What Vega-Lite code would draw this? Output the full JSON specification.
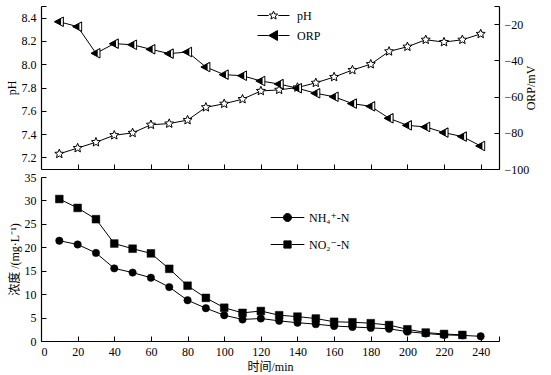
{
  "$schema": "https://vega.github.io/schema/vega-lite/v6.json",
  "padding": {"left": 5, "top": 5, "right": 5, "bottom": 0},
  "background": "white",
  "config": {
    "font": "Liberation Serif",
    "view": {"stroke": null},
    "axis": {
      "labelFont": "Liberation Serif, Noto Sans CJK SC",
      "titleFont": "Liberation Serif, Noto Sans CJK SC",
      "labelFontSize": 12,
      "titleFontSize": 12,
      "titleFontWeight": "normal",
      "labelColor": "black",
      "titleColor": "black",
      "domainColor": "black",
      "tickColor": "black",
      "domainWidth": 1.2,
      "tickWidth": 1,
      "tickSize": -5,
      "labelPadding": 10,
      "grid": false
    },
    "legend": {
      "labelFont": "Liberation Serif, DejaVu Serif",
      "labelFontSize": 12,
      "labelColor": "black",
      "padding": 0
    }
  },
  "resolve": {"scale": {"stroke": "independent"}, "legend": {"stroke": "independent"}},
  "spacing": -4,
  "datasets": {
    "top": [
      {"t": 10, "s": "pH", "v": 7.23}, {"t": 20, "s": "pH", "v": 7.28}, {"t": 30, "s": "pH", "v": 7.33}, {"t": 40, "s": "pH", "v": 7.39},
      {"t": 50, "s": "pH", "v": 7.41}, {"t": 60, "s": "pH", "v": 7.48}, {"t": 70, "s": "pH", "v": 7.49}, {"t": 80, "s": "pH", "v": 7.52},
      {"t": 90, "s": "pH", "v": 7.63}, {"t": 100, "s": "pH", "v": 7.66}, {"t": 110, "s": "pH", "v": 7.70}, {"t": 120, "s": "pH", "v": 7.77},
      {"t": 130, "s": "pH", "v": 7.78}, {"t": 140, "s": "pH", "v": 7.80}, {"t": 150, "s": "pH", "v": 7.84}, {"t": 160, "s": "pH", "v": 7.89},
      {"t": 170, "s": "pH", "v": 7.95}, {"t": 180, "s": "pH", "v": 8.00}, {"t": 190, "s": "pH", "v": 8.11}, {"t": 200, "s": "pH", "v": 8.15},
      {"t": 210, "s": "pH", "v": 8.21}, {"t": 220, "s": "pH", "v": 8.19}, {"t": 230, "s": "pH", "v": 8.21}, {"t": 240, "s": "pH", "v": 8.26},
      {"t": 10, "s": "ORP", "v": -18.7}, {"t": 20, "s": "ORP", "v": -21.4}, {"t": 30, "s": "ORP", "v": -36.1}, {"t": 40, "s": "ORP", "v": -30.8},
      {"t": 50, "s": "ORP", "v": -31.4}, {"t": 60, "s": "ORP", "v": -33.9}, {"t": 70, "s": "ORP", "v": -36.3}, {"t": 80, "s": "ORP", "v": -35.4},
      {"t": 90, "s": "ORP", "v": -43.7}, {"t": 100, "s": "ORP", "v": -47.9}, {"t": 110, "s": "ORP", "v": -48.5}, {"t": 120, "s": "ORP", "v": -51.4},
      {"t": 130, "s": "ORP", "v": -53.1}, {"t": 140, "s": "ORP", "v": -55.4}, {"t": 150, "s": "ORP", "v": -58.2}, {"t": 160, "s": "ORP", "v": -60.1},
      {"t": 170, "s": "ORP", "v": -63.9}, {"t": 180, "s": "ORP", "v": -65.4}, {"t": 190, "s": "ORP", "v": -72.0}, {"t": 200, "s": "ORP", "v": -75.9},
      {"t": 210, "s": "ORP", "v": -76.8}, {"t": 220, "s": "ORP", "v": -79.9}, {"t": 230, "s": "ORP", "v": -82.1}, {"t": 240, "s": "ORP", "v": -87.3}
    ],
    "bot": [
      {"t": 10, "s": "NH₄⁺-N", "v": 21.4}, {"t": 20, "s": "NH₄⁺-N", "v": 20.6}, {"t": 30, "s": "NH₄⁺-N", "v": 18.8}, {"t": 40, "s": "NH₄⁺-N", "v": 15.5},
      {"t": 50, "s": "NH₄⁺-N", "v": 14.6}, {"t": 60, "s": "NH₄⁺-N", "v": 13.5}, {"t": 70, "s": "NH₄⁺-N", "v": 11.5}, {"t": 80, "s": "NH₄⁺-N", "v": 8.7},
      {"t": 90, "s": "NH₄⁺-N", "v": 7.0}, {"t": 100, "s": "NH₄⁺-N", "v": 5.5}, {"t": 110, "s": "NH₄⁺-N", "v": 4.6}, {"t": 120, "s": "NH₄⁺-N", "v": 4.8},
      {"t": 130, "s": "NH₄⁺-N", "v": 4.3}, {"t": 140, "s": "NH₄⁺-N", "v": 3.9}, {"t": 150, "s": "NH₄⁺-N", "v": 3.6}, {"t": 160, "s": "NH₄⁺-N", "v": 3.2},
      {"t": 170, "s": "NH₄⁺-N", "v": 3.0}, {"t": 180, "s": "NH₄⁺-N", "v": 2.8}, {"t": 190, "s": "NH₄⁺-N", "v": 2.6}, {"t": 200, "s": "NH₄⁺-N", "v": 2.0},
      {"t": 210, "s": "NH₄⁺-N", "v": 1.6}, {"t": 220, "s": "NH₄⁺-N", "v": 1.3}, {"t": 230, "s": "NH₄⁺-N", "v": 1.2}, {"t": 240, "s": "NH₄⁺-N", "v": 1.0},
      {"t": 10, "s": "NO₂⁻-N", "v": 30.3}, {"t": 20, "s": "NO₂⁻-N", "v": 28.4}, {"t": 30, "s": "NO₂⁻-N", "v": 26.0}, {"t": 40, "s": "NO₂⁻-N", "v": 20.8},
      {"t": 50, "s": "NO₂⁻-N", "v": 19.7}, {"t": 60, "s": "NO₂⁻-N", "v": 18.7}, {"t": 70, "s": "NO₂⁻-N", "v": 15.4}, {"t": 80, "s": "NO₂⁻-N", "v": 11.8},
      {"t": 90, "s": "NO₂⁻-N", "v": 9.2}, {"t": 100, "s": "NO₂⁻-N", "v": 7.1}, {"t": 110, "s": "NO₂⁻-N", "v": 6.0}, {"t": 120, "s": "NO₂⁻-N", "v": 6.4},
      {"t": 130, "s": "NO₂⁻-N", "v": 5.5}, {"t": 140, "s": "NO₂⁻-N", "v": 5.2}, {"t": 150, "s": "NO₂⁻-N", "v": 4.8}, {"t": 160, "s": "NO₂⁻-N", "v": 4.1},
      {"t": 170, "s": "NO₂⁻-N", "v": 4.0}, {"t": 180, "s": "NO₂⁻-N", "v": 3.8}, {"t": 190, "s": "NO₂⁻-N", "v": 3.4}, {"t": 200, "s": "NO₂⁻-N", "v": 2.5},
      {"t": 210, "s": "NO₂⁻-N", "v": 1.8}, {"t": 220, "s": "NO₂⁻-N", "v": 1.5}, {"t": 230, "s": "NO₂⁻-N", "v": 1.3}
    ]
  },
  "vconcat": [
    {
      "width": 458,
      "height": 163,
      "data": {"name": "top"},
      "encoding": {
        "x": {"field": "t", "type": "quantitative", "scale": {"domain": [0, 250], "nice": false},
              "axis": {"values": [20, 40, 60, 80, 100, 120, 140, 160, 180, 200, 220, 240], "labels": false, "title": null}}
      },
      "layer": [
        {
          "transform": [{"filter": "datum.s == 'pH'"}],
          "encoding": {
            "y": {"field": "v", "type": "quantitative", "scale": {"domain": [7.1, 8.5], "nice": false, "zero": false},
                  "axis": {"orient": "left", "title": "pH", "values": [7.2, 7.4, 7.6, 7.8, 8.0, 8.2, 8.4, 8.5],
                           "labelExpr": "datum.value > 8.45 ? '' : format(datum.value, '.1f')", "titlePadding": 3}}
          },
          "layer": [
            {"mark": {"type": "line", "color": "black", "strokeWidth": 1}},
            {"mark": {"type": "point", "filled": true, "fill": "white", "strokeWidth": 1, "size": 90, "opacity": 1,
                      "shape": "M0,-1L0.265,-0.364L0.951,-0.309L0.428,0.139L0.588,0.809L0,0.45L-0.588,0.809L-0.428,0.139L-0.951,-0.309L-0.265,-0.364Z"},
             "encoding": {
               "stroke": {"field": "s", "type": "nominal", "scale": {"domain": ["pH"], "range": ["black"]},
                          "legend": {"orient": "none", "legendX": 224, "legendY": 1, "title": null, "symbolSize": 256, "labelOffset": 15,
                                     "symbolType": "M-2,0L-0.6,0M0.6,0L2,0M0,-0.55L0.146,-0.2L0.523,-0.17L0.235,0.076L0.323,0.445L0,0.248L-0.323,0.445L-0.235,0.076L-0.523,-0.17L-0.146,-0.2Z",
                                     "symbolFillColor": "white", "symbolStrokeWidth": 1, "symbolOpacity": 1}}
             }}
          ]
        },
        {
          "transform": [{"filter": "datum.s == 'ORP'"}],
          "encoding": {
            "y": {"field": "v", "type": "quantitative", "scale": {"domain": [-100, -10], "nice": false, "zero": false},
                  "axis": {"orient": "right", "title": "ORP/mV", "titleAngle": 270, "values": [-100, -80, -60, -40, -20, -10],
                           "labelExpr": "datum.value == -10 ? '' : format(datum.value, 'd')", "titlePadding": 9}}
          },
          "layer": [
            {"mark": {"type": "line", "color": "black", "strokeWidth": 1}},
            {"mark": {"type": "point", "filled": true, "fill": "black", "strokeWidth": 1, "size": 100, "opacity": 1, "shape": "M-1,0L0.8,-0.95L0.8,0.95Z"},
             "encoding": {
               "stroke": {"field": "s", "type": "nominal", "scale": {"domain": ["ORP"], "range": ["black"]},
                          "legend": {"orient": "none", "legendX": 224, "legendY": 21, "title": null, "symbolSize": 256, "labelOffset": 15,
                                     "symbolType": "M-2,0L-0.6,0M0.6,0L2,0M-0.6,0L0.5,-0.62L0.5,0.62Z",
                                     "symbolFillColor": "black", "symbolStrokeWidth": 1, "symbolOpacity": 1}}
             }},
            {"mark": {"type": "point", "filled": true, "fill": "white", "strokeWidth": 0, "size": 100, "opacity": 1, "shape": "M0.35,-0.59L0.7,-0.78L0.7,0.78L0.35,0.59Z"}}
          ]
        }
      ],
      "resolve": {"scale": {"y": "independent", "stroke": "independent"}, "axis": {"y": "independent"}, "legend": {"stroke": "independent"}}
    },
    {
      "width": 458,
      "height": 164,
      "data": {"name": "bot"},
      "encoding": {
        "x": {"field": "t", "type": "quantitative", "scale": {"domain": [0, 250], "nice": false},
              "axis": {"values": [0, 20, 40, 60, 80, 100, 120, 140, 160, 180, 200, 220, 240, 250],
                       "labelExpr": "datum.value == 250 ? '' : datum.label", "title": "时间/min", "titlePadding": 4}},
        "y": {"field": "v", "type": "quantitative", "scale": {"domain": [0, 35], "nice": false},
              "axis": {"values": [0, 5, 10, 15, 20, 25, 30, 35], "title": "浓度 /(mg·L⁻¹)", "titlePadding": 3}}
      },
      "layer": [
        {"mark": {"type": "line", "color": "black", "strokeWidth": 1}, "encoding": {"detail": {"field": "s"}}},
        {"transform": [{"filter": "indexof(datum.s, 'NH') === 0"}],
         "mark": {"type": "point", "filled": true, "fill": "black", "strokeWidth": 0.5, "opacity": 1, "shape": "circle", "size": 55},
         "encoding": {
           "stroke": {"field": "s", "type": "nominal", "scale": {"domain": ["NH₄⁺-N"], "range": ["black"]},
                      "legend": {"orient": "none", "legendX": 238, "legendY": 32, "title": null, "symbolSize": 256, "labelOffset": 13,
                                 "symbolType": "M-2.1,0L-0.5,0M0.5,0L2.1,0M-0.5,0A0.5,0.5,0,1,0,0.5,0A0.5,0.5,0,1,0,-0.5,0Z",
                                 "symbolFillColor": "black", "symbolStrokeWidth": 1, "symbolOpacity": 1}}
         }},
        {"transform": [{"filter": "indexof(datum.s, 'NO') === 0"}],
         "mark": {"type": "point", "filled": true, "fill": "black", "strokeWidth": 0.5, "opacity": 1, "shape": "square", "size": 60},
         "encoding": {
           "stroke": {"field": "s", "type": "nominal", "scale": {"domain": ["NO₂⁻-N"], "range": ["black"]},
                      "legend": {"orient": "none", "legendX": 238, "legendY": 59, "title": null, "symbolSize": 256, "labelOffset": 13,
                                 "symbolType": "M-2.1,0L-0.5,0M0.5,0L2.1,0M-0.45,-0.45L0.45,-0.45L0.45,0.45L-0.45,0.45Z",
                                 "symbolFillColor": "black", "symbolStrokeWidth": 1, "symbolOpacity": 1}}
         }}
      ],
      "resolve": {"scale": {"stroke": "independent"}, "legend": {"stroke": "independent"}}
    }
  ]
}
